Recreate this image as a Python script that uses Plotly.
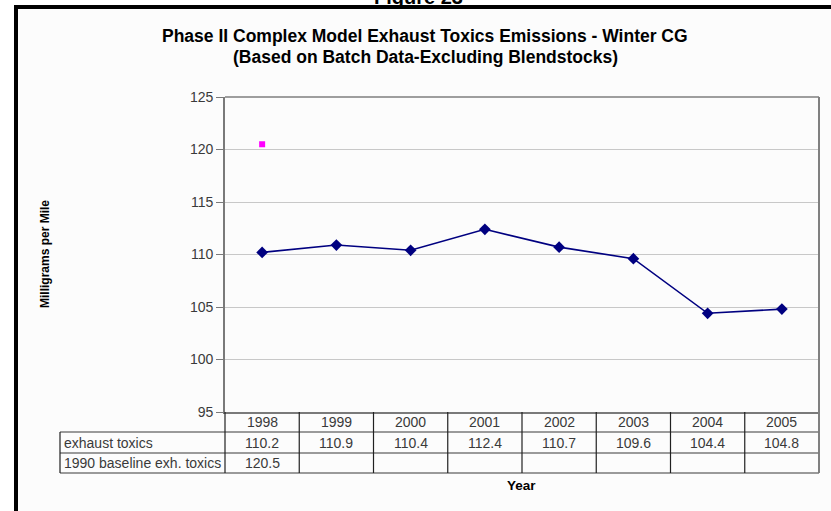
import plotly.graph_objects as go

years = ["1998", "1999", "2000", "2001", "2002", "2003", "2004", "2005"]
exhaust_toxics = [110.2, 110.9, 110.4, 112.4, 110.7, 109.6, 104.4, 104.8]
baseline_years = ["1998"]
baseline_toxics = [120.5]
row_labels = ["exhaust toxics", "1990 baseline exh. toxics"]

W, H = 831, 511
L, R, T, B = 225, 12, 97, 99
PW = W - L - R
PH = H - T - B

def px_x(x):
    return (x - L) / PW

def px_y(y):
    return (H - B - y) / PH

FONT = "Liberation Sans, Arial, sans-serif"
TXT = "#3a3a3a"

idx = list(range(len(years)))
bidx = [years.index(y) for y in baseline_years]

fig = go.Figure()
fig.add_trace(go.Scatter(
    x=idx, y=exhaust_toxics, mode="lines+markers", name="exhaust toxics",
    line=dict(color="#000080", width=1.6),
    marker=dict(symbol="diamond", size=9, color="#000080"),
))
fig.add_trace(go.Scatter(
    x=bidx, y=baseline_toxics, mode="markers", name="1990 baseline exh. toxics",
    marker=dict(symbol="square", size=6, color="#ff00ff"),
))

shapes = []
annotations = []

# outer frame
shapes.append(dict(type="rect", xref="paper", yref="paper",
                   x0=px_x(16), x1=px_x(W + 20), y0=px_y(H + 20), y1=px_y(7),
                   line=dict(color="black", width=4), fillcolor="#fcfcfc", layer="below"))

# plot area border (top and right)
shapes.append(dict(type="line", xref="paper", yref="paper", x0=0, x1=1, y0=1, y1=1,
                   line=dict(color="#404040", width=1.2)))
shapes.append(dict(type="line", xref="paper", yref="paper", x0=1, x1=1, y0=px_y(473), y1=1,
                   line=dict(color="#808080", width=2)))

# table
row_y = [412, 432, 453, 473]
left_x = px_x(60)
for yy in row_y[1:]:
    shapes.append(dict(type="line", xref="paper", yref="paper", x0=left_x, x1=1,
                       y0=px_y(yy), y1=px_y(yy), line=dict(color="#7a7a7a", width=1.6)))
shapes.append(dict(type="line", xref="paper", yref="paper", x0=left_x, x1=left_x,
                   y0=px_y(473), y1=px_y(432), line=dict(color="#202020", width=1.2)))
shapes.append(dict(type="line", xref="paper", yref="paper", x0=0, x1=0,
                   y0=px_y(473), y1=px_y(412), line=dict(color="#202020", width=1.2)))
for i in range(1, len(years)):
    shapes.append(dict(type="line", xref="x", yref="paper", x0=i - 0.5, x1=i - 0.5,
                       y0=px_y(473), y1=px_y(412), line=dict(color="#202020", width=1.2)))

def cell_center(r):
    return px_y((row_y[r] + row_y[r + 1]) / 2)

TF = dict(family=FONT, size=14, color=TXT)
for i, yr in enumerate(years):
    annotations.append(dict(x=i, y=cell_center(0), xref="x", yref="paper", text=yr,
                            xanchor="center", yanchor="middle", showarrow=False, font=TF))
for i, v in enumerate(exhaust_toxics):
    annotations.append(dict(x=i, y=cell_center(1), xref="x", yref="paper", text=f"{v:.1f}",
                            xanchor="center", yanchor="middle", showarrow=False, font=TF))
for i, v in zip(bidx, baseline_toxics):
    annotations.append(dict(x=i, y=cell_center(2), xref="x", yref="paper", text=f"{v:.1f}",
                            xanchor="center", yanchor="middle", showarrow=False, font=TF))
for r, lab in enumerate(row_labels):
    annotations.append(dict(x=px_x(62), y=cell_center(r + 1), xref="paper", yref="paper",
                            text=lab, xanchor="left", yanchor="middle", showarrow=False, font=TF))

# titles
annotations.append(dict(x=px_x(425), y=px_y(36), xref="paper", yref="paper",
                        xanchor="center", yanchor="middle",
                        text="<b>Phase II Complex Model Exhaust Toxics Emissions - Winter CG</b>",
                        showarrow=False, font=dict(family=FONT, size=17.5, color="black")))
annotations.append(dict(x=px_x(425), y=px_y(57), xref="paper", yref="paper",
                        xanchor="center", yanchor="middle",
                        text="<b>(Based on Batch Data-Excluding Blendstocks)</b>",
                        showarrow=False, font=dict(family=FONT, size=17.5, color="black")))
annotations.append(dict(x=px_x(418), y=px_y(10), xref="paper", yref="paper",
                        xanchor="center", yanchor="bottom",
                        text="<b>Figure 23</b>", showarrow=False,
                        font=dict(family=FONT, size=20, color="black")))
annotations.append(dict(x=px_x(45), y=px_y(254), xref="paper", yref="paper",
                        xanchor="center", yanchor="middle",
                        text="<b>Milligrams per Mile</b>", textangle=-90, showarrow=False,
                        font=dict(family=FONT, size=12, color="black")))
annotations.append(dict(x=px_x(521), y=px_y(485), xref="paper", yref="paper",
                        xanchor="center", yanchor="middle",
                        text="<b>Year</b>", showarrow=False,
                        font=dict(family=FONT, size=13.5, color="black")))

fig.update_layout(
    width=W, height=H,
    margin=dict(l=L, r=R, t=T, b=B, pad=0),
    paper_bgcolor="white", plot_bgcolor="#fcfcfc",
    showlegend=False,
    shapes=shapes, annotations=annotations,
    xaxis=dict(range=[-0.5, len(years) - 0.5], showticklabels=False, showgrid=False,
               zeroline=False, showline=True, linecolor="#7a7a7a", linewidth=1.6,
               ticks="", fixedrange=True),
    yaxis=dict(range=[95, 125], dtick=5, showgrid=True, gridcolor="#c8c8c8", gridwidth=1,
               zeroline=False, showline=True, linecolor="#7a7a7a", linewidth=1.6,
               ticks="outside", ticklen=7, tickcolor="#7a7a7a", tickwidth=1.2,
               tickfont=dict(family=FONT, size=14, color=TXT), fixedrange=True),
)

fig.write_html("out.html", config={"displayModeBar": False},
               post_script="document.body.style.margin='0';document.body.style.overflow='hidden';")
